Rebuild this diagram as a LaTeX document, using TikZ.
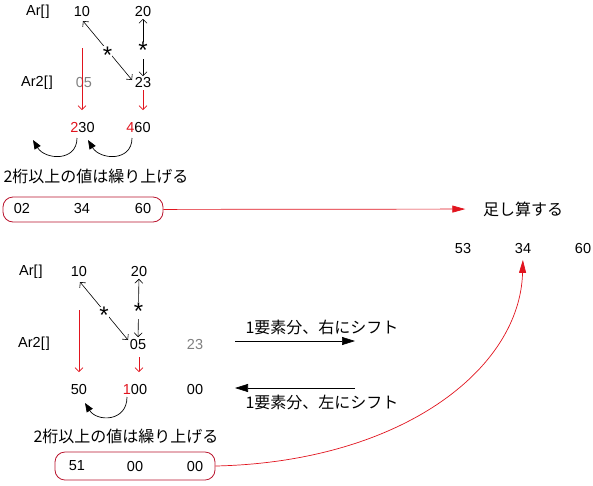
\documentclass[tikz,border=0pt]{standalone}
\usepackage{fontspec}
\setmainfont{Liberation Sans}
\newfontfamily\jp{Noto Sans CJK JP}
\usetikzlibrary{arrows.meta}
\definecolor{arrred}{RGB}{225,20,30}
\definecolor{boxred}{RGB}{185,20,45}
\definecolor{numgray}{RGB}{128,128,128}
\begin{document}
\begin{tikzpicture}[
    x=1pt,
    y=-1pt,
    every node/.style={
      inner sep=1.5pt,
      font=\fontsize{14.5}{15}\selectfont
    },
    note/.style={font=\jp\fontsize{16}{17}\selectfont},
    star/.style={fill=white, inner sep=0.3pt, font=\fontsize{24}{24}\selectfont, yshift=-4.5pt},
    link/.style={line width=0.6pt, {Straight Barb[length=4pt,width=8pt]}-{Straight Barb[length=4pt,width=8pt]}},
    downarrow/.style={line width=0.6pt, arrred, -{Straight Barb[length=4pt,width=8pt]}},
    carry/.style={line width=0.7pt, -{Triangle[length=9pt,width=7pt]}},
    shiftarrow/.style={line width=0.7pt, -{Triangle[length=13pt,width=8pt]}},
    sumarrow/.style={line width=0.7pt, arrred, -{Triangle[length=13pt,width=7pt]}},
    sumbox/.style={draw=boxred, line width=0.8pt, rounded corners=10pt,
      minimum width=160pt, minimum height=25pt}
  ]
    \useasboundingbox (0,0) rectangle (593,485);

    % upper half
    \node (lab1) at (38, 12) {Ar[\kern1pt]};
    \node (a10) at (82, 12) {10};
    \node (a20) at (143, 12) {20};
    \node (lab2) at (37, 83) {Ar2[\kern1pt]};
    \node[text=numgray] (b05) at (84, 83) {05};
    \node (b23) at (143, 83) {23};
    \node (r230) at (82.5, 128) {\textcolor{arrred}{2}30};
    \node (r460) at (138.5, 128) {\textcolor{arrred}{4}60};

    \coordinate (t1) at (83, 21);
    \coordinate (t2) at (132, 80);
    \draw[link] (t1) -- node[star] {*} (t2);
    \draw[link] (a20) -- node[star, pos=0.47] {*} (b23);

    \coordinate (d1) at (82, 48);
    \coordinate (d2) at (82, 110);
    \coordinate (d3) at (143, 90);
    \coordinate (d4) at (143, 110);
    \draw[downarrow] (d1) -- (d2);
    \draw[downarrow] (d3) -- (d4);

    \coordinate (k1) at (77, 138);
    \coordinate (k2) at (33, 140);
    \coordinate (k3) at (132, 138);
    \coordinate (k4) at (88, 140);
    \draw[carry] (k1) .. controls (77, 162) and (45, 160) .. (k2);
    \draw[carry] (k3) .. controls (132, 162) and (100, 160) .. (k4);

    \node[note] (note1) at (96, 176) {2桁以上の値は繰り上げる};
    \node[sumbox] (box1) at (83, 209.5) {};
    \node (v02) at (22, 209) {02};
    \node (v34) at (82, 209) {34};
    \node (v60) at (143, 209) {60};

    \node[note] (add) at (523, 209) {足し算する};
    \draw[sumarrow, shorten >=16pt] (box1) -- (add);

    \node (s53) at (463, 249) {53};
    \node (s34) at (523, 249) {34};
    \node (s60) at (583, 249) {60};

    % lower half
    \node (lab3) at (31, 272) {Ar[\kern1pt]};
    \node (c10) at (79, 272) {10};
    \node (c20) at (139, 272) {20};
    \node (lab4) at (34, 344) {Ar2[\kern1pt]};
    \node (d05) at (138, 344) {05};
    \node[text=numgray] (d23) at (195, 344) {23};
    \node (e50) at (79, 389) {50};
    \node (e100) at (135, 389) {\textcolor{arrred}{1}00};
    \node (e00) at (195, 389) {00};

    \coordinate (t3) at (80, 282);
    \coordinate (t4) at (128, 340);
    \draw[link] (t3) -- node[star] {*} (t4);
    \draw[link] (c20) -- node[star, pos=0.47] {*} (d05);

    \coordinate (d5) at (79, 310);
    \coordinate (d6) at (79, 372);
    \coordinate (d7) at (139, 357);
    \coordinate (d8) at (139, 372);
    \draw[downarrow] (d5) -- (d6);
    \draw[downarrow] (d7) -- (d8);

    \coordinate (k5) at (127, 397);
    \coordinate (k6) at (85, 403);
    \draw[carry] (k5) .. controls (127, 422) and (97, 422) .. (k6);

    \coordinate (sr1) at (235, 341);
    \coordinate (sr2) at (355, 341);
    \coordinate (sl1) at (355, 388);
    \coordinate (sl2) at (235, 388);
    \draw[shiftarrow] (sr1) -- (sr2);
    \draw[shiftarrow] (sl1) -- (sl2);
    \node[note] (right) at (322, 327) {1要素分、右にシフト};
    \node[note] (left) at (322, 402) {1要素分、左にシフト};

    \node[note] (note2) at (126, 436) {2桁以上の値は繰り上げる};
    \node[sumbox, minimum height=28pt] (box2) at (135, 466) {};
    \node (v51) at (77, 466) {51};
    \node (v00a) at (135, 466) {00};
    \node (v00b) at (195, 466) {00};

    \draw[sumarrow, shorten >=4pt] (box2.east) .. controls (400, 462) and (520, 370) .. (s34.south);
  \end{tikzpicture}
\end{document}
